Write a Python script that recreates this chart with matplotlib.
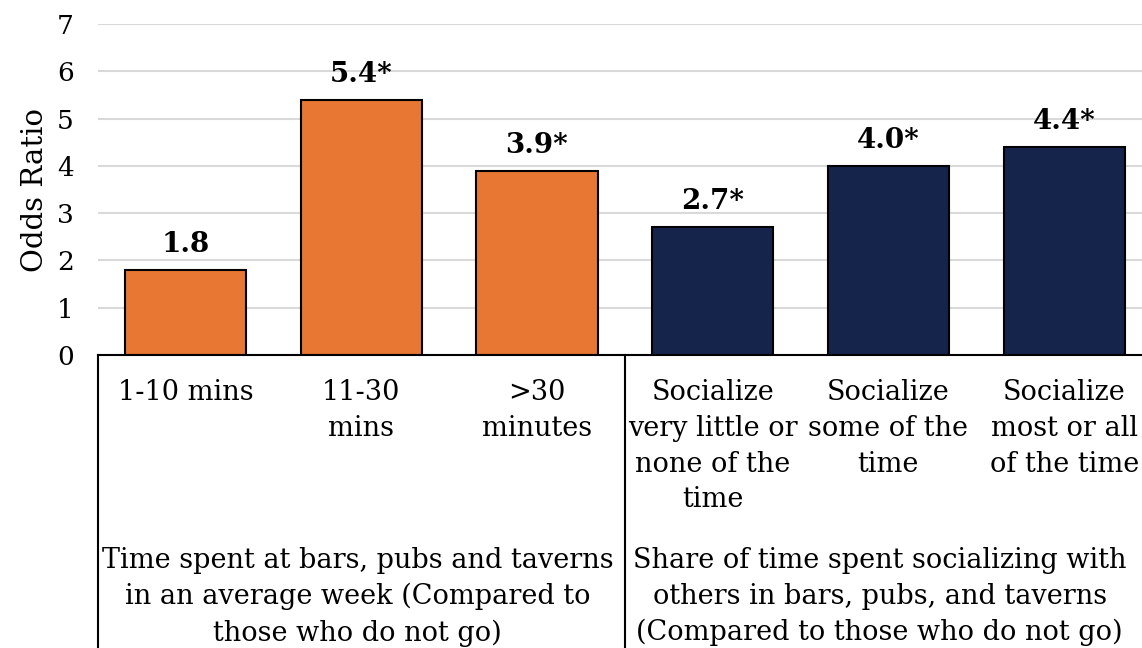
import matplotlib
matplotlib.use("Agg")
import matplotlib.pyplot as plt
import matplotlib.transforms as mtransforms

plt.rcParams['font.family'] = ['DejaVu Serif']

# odds ratios by category
categories = ['1-10 mins', '11-30\nmins', '>30\nminutes',
              'Socialize\nvery little or\nnone of the\ntime',
              'Socialize\nsome of the\ntime',
              'Socialize\nmost or all\nof the time']
odds = [1.8, 5.4, 3.9, 2.7, 4.0, 4.4]
significant = [False, True, True, True, True, True]
groups = ['Time spent at bars, pubs and taverns\nin an average week (Compared to\nthose who do not go)',
          'Share of time spent socializing with\nothers in bars, pubs, and taverns\n(Compared to those who do not go)']
group_sizes = [3, 3]
yticks = [0, 1, 2, 3, 4, 5, 6, 7]

orange = '#E87733'
navy = '#14244B'
colors = [orange] * group_sizes[0] + [navy] * group_sizes[1]

W, H = 1142, 648
fig = plt.figure(figsize=(W / 100, H / 100), dpi=100)
ax = fig.add_axes([97.6 / W, 1 - 355 / H, (1152 - 97.6) / W, 331 / H])

x = list(range(len(odds)))
ax.bar(x, odds, width=0.69, color=colors, edgecolor='black', linewidth=1.5, zorder=3)

# value labels, asterisk marks significance
for xi, v, s in zip(x, odds, significant):
    lab = f'{v:.1f}' + ('*' if s else '')
    ax.annotate(lab, (xi, v), xytext=(0, 13), textcoords='offset points',
                ha='center', va='baseline', fontsize=20, fontweight='bold')

ax.set_xlim(-0.5, len(odds) - 0.5)
ax.set_ylim(0, 7)
ax.set_yticks(yticks)
ax.tick_params(axis='y', length=0, labelsize=19, pad=17)
ax.tick_params(axis='x', length=0, labelbottom=False)
ax.grid(axis='y', color='#d9d9d9', linewidth=1.5, zorder=0)
for side in ['left', 'right', 'top']:
    ax.spines[side].set_visible(False)
ax.spines['bottom'].set_linewidth(1.5)
ax.spines['bottom'].set_zorder(4)
ax.set_ylabel('Odds Ratio', fontsize=21, labelpad=6)

# category table below the axis
tr = mtransforms.blended_transform_factory(ax.transData, fig.transFigure)
bounds = [-0.5, group_sizes[0] - 0.5]
for b in bounds:
    ax.plot([b, b], [1 - 355 / H, 0], transform=tr, color='black',
            linewidth=1.5, clip_on=False)

for xi, c in zip(x, categories):
    ax.text(xi, 1 - 379 / H, c, transform=tr, ha='center', va='top',
            fontsize=19.5, linespacing=1.42)

gx = [0.98, 3.95]
for g, t in zip(gx, groups):
    ax.text(g, 1 - 547 / H, t, transform=tr, ha='center', va='top',
            fontsize=19.5, linespacing=1.42)

fig.savefig('out.png', dpi=100)
